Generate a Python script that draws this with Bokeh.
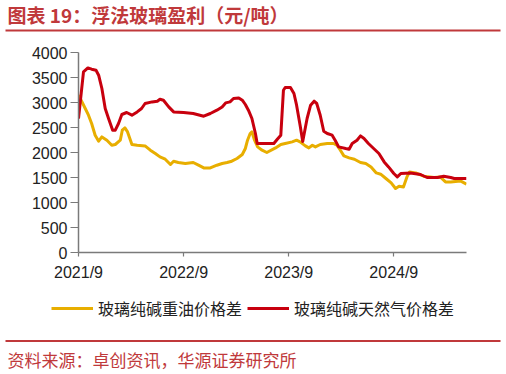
from bokeh.plotting import figure
from bokeh.models import (Range1d, FixedTicker, Legend, LegendItem,
                          SingleIntervalTicker)
from bokeh.layouts import column
from bokeh.core.properties import value
from bokeh.embed import file_html
from bokeh.resources import INLINE

# ---- data (x = months since 2021/9) ----
x_tick_months = [0, 12, 24, 36]
x_tick_labels = ["2021/9", "2022/9", "2023/9", "2024/9"]

oil_name = "玻璃纯碱重油价格差"
gas_name = "玻璃纯碱天然气价格差"

gas_m = [0, 0.57, 1.07, 1.5, 2.0, 2.3, 2.67, 3.05, 3.43, 3.9, 4.2, 4.57, 4.95, 5.5, 6.1,
         6.7, 7.2, 7.6, 8.4, 9.0, 9.3, 9.7, 10.3, 10.86, 12.0, 13.1, 14.3, 15.05, 15.8,
         16.4, 16.8, 17.3, 17.7, 18.3, 18.7, 19.05, 19.4, 19.8, 20.2, 20.4, 20.96, 21.7,
         22.3, 22.7, 23.1, 23.4, 23.6, 24.2, 24.6, 24.9, 25.3, 25.6, 26.1, 26.5, 26.9,
         27.2, 27.6, 28.0, 28.4, 28.96, 29.3, 29.7, 30.5, 30.9, 31.25, 31.8, 32.2, 32.6,
         33.1, 33.7, 34.3, 34.9, 35.4, 36.0, 36.4, 36.8, 37.9, 39.05, 39.8, 41.0, 41.7,
         42.5, 42.9, 44.3]
gas_v = [2680, 3612, 3692, 3666, 3646, 3546, 3280, 2880, 2680, 2446, 2446, 2580, 2760, 2800,
         2746, 2812, 2880, 2980, 3012, 3026, 3066, 3046, 2912, 2812, 2800, 2780, 2726, 2780,
         2846, 2912, 2992, 3012, 3080, 3092, 3046, 2960, 2846, 2680, 2380, 2180, 2180, 2180,
         2180, 2266, 2346, 3246, 3300, 3300, 3180, 2946, 2546, 2220, 2680, 2946, 3026, 2980,
         2746, 2426, 2380, 2346, 2246, 2112, 2080, 2066, 2180, 2246, 2332, 2280, 2180, 2080,
         1980, 1812, 1712, 1580, 1512, 1580, 1592, 1560, 1500, 1500, 1526, 1500, 1480, 1480]

oil_m = [0, 0.4, 0.77, 1.14, 1.5, 1.9, 2.3, 2.67, 3.24, 3.8, 4.2, 4.77, 5.0, 5.3, 5.6, 6.1,
         6.7, 7.6, 8.2, 8.77, 9.3, 9.9, 10.5, 10.86, 11.4, 12.2, 13.1, 13.7, 14.3, 15.05,
         15.8, 16.4, 16.96, 17.5, 18.1, 18.7, 19.05, 19.3, 19.6, 19.8, 20.1, 20.45, 20.96,
         21.5, 22.5, 23.1, 23.6, 24.4, 24.9, 25.3, 25.9, 26.3, 26.7, 27.05, 27.6, 28.4,
         29.1, 29.5, 29.9, 30.3, 30.9, 31.5, 32.2, 32.8, 33.4, 34.0, 34.5, 35.1, 35.7, 36.2,
         36.6, 37.1, 37.5, 37.8, 38.5, 39.4, 40.6, 41.3, 41.9, 42.5, 43.6, 44.3]
oil_v = [3146, 3012, 2880, 2746, 2580, 2346, 2226, 2312, 2246, 2146, 2160, 2246, 2446, 2492,
         2412, 2160, 2146, 2132, 2046, 1980, 1912, 1866, 1760, 1826, 1800, 1780, 1800, 1746,
         1692, 1692, 1746, 1780, 1800, 1826, 1880, 1960, 2080, 2246, 2380, 2412, 2246, 2112,
         2046, 2000, 2092, 2160, 2180, 2212, 2246, 2212, 2132, 2092, 2146, 2112, 2160, 2180,
         2180, 2146, 2046, 1932, 1892, 1866, 1800, 1780, 1712, 1592, 1566, 1480, 1392, 1280,
         1326, 1312, 1512, 1612, 1592, 1526, 1500, 1512, 1412, 1412, 1432, 1366]

title_text = "图表 19：浮法玻璃盈利（元/吨）"
source_text = "资料来源：卓创资讯，华源证券研究所"

OIL_COLOR = "#E8AE00"
GAS_COLOR = "#C8000E"
ACCENT = "#C0393B"
AX = "#7A7A7A"
FONT = "Liberation Sans"
CJK = "Noto Sans CJK SC"
W = 506
TOP_H, MAIN_H, BOT_H = 38, 252, 84


def bare(h):
    f = figure(width=W, height=h, output_backend="svg", toolbar_location=None,
               x_range=Range1d(0, W), y_range=Range1d(h, 0),
               x_axis_location=None, y_axis_location=None, frame_align=False,
               min_border=0, min_border_left=0, min_border_right=0,
               min_border_top=0, min_border_bottom=0)
    f.outline_line_color = None
    f.xgrid.grid_line_color = None
    f.ygrid.grid_line_color = None
    f.border_fill_color = "white"
    f.background_fill_color = "white"
    return f


# ---- top: title + rule ----
top = bare(TOP_H)
top.text(x=[7], y=[14], text=[title_text], text_font=value(CJK), text_font_size="19px",
         text_font_style="bold", text_color=ACCENT, text_baseline="middle", text_align="left")
top.segment(x0=[5], y0=[30], x1=[500], y1=[30], line_color=ACCENT, line_width=2)

# ---- main chart ----
p = figure(width=W, height=MAIN_H, output_backend="svg", toolbar_location=None,
           x_range=Range1d(0, 44.3), y_range=Range1d(0, 4000), frame_align=False,
           min_border_left=78, min_border_right=40, min_border_top=14, min_border_bottom=38)
p.outline_line_color = None
p.xgrid.grid_line_color = None
p.ygrid.grid_line_color = None
p.background_fill_color = "white"
p.border_fill_color = "white"

p.line(oil_m, oil_v, line_color=OIL_COLOR, line_width=3, line_join="round")
p.line(gas_m, gas_v, line_color=GAS_COLOR, line_width=3, line_join="round")

xa = p.xaxis[0]
xa.ticker = FixedTicker(ticks=x_tick_months)
xa.major_label_overrides = {m: l for m, l in zip(x_tick_months, x_tick_labels)}
xa.minor_tick_line_color = None
xa.major_tick_in = 0
xa.major_tick_out = 4
xa.major_label_standoff = 7
xa.axis_line_color = AX
xa.axis_line_width = 1.5
xa.major_tick_line_color = AX
xa.major_tick_line_width = 1.2
xa.major_label_text_font = FONT
xa.major_label_text_font_size = "16px"
xa.major_label_text_color = "#222222"

ya = p.yaxis[0]
ya.ticker = SingleIntervalTicker(interval=500)
ya.minor_tick_line_color = None
ya.major_tick_in = 0
ya.major_tick_out = 8
ya.major_label_standoff = 3
ya.axis_line_color = AX
ya.axis_line_width = 1.5
ya.major_tick_line_color = AX
ya.major_tick_line_width = 1.2
ya.major_label_text_font = FONT
ya.major_label_text_font_size = "16px"
ya.major_label_text_color = "#222222"

# ---- bottom: legend + rule + source ----
bot = bare(BOT_H)
# legend keys (kept off-canvas; they only lend their style to the legend)
k_oil = bot.line([-50, -40], [-50, -50], line_color=OIL_COLOR, line_width=3)
k_gas = bot.line([-50, -40], [-50, -50], line_color=GAS_COLOR, line_width=3)
legend = Legend(items=[LegendItem(label=oil_name, renderers=[k_oil]),
                       LegendItem(label=gas_name, renderers=[k_gas])],
                orientation="horizontal", location=(51, 54),
                glyph_width=42, glyph_height=20, label_standoff=5, spacing=5,
                padding=0, margin=0, border_line_color=None,
                background_fill_alpha=0,
                label_text_font=CJK, label_text_font_size="16px",
                label_text_color="#222222")
bot.add_layout(legend, "center")
bot.segment(x0=[5], y0=[50.5], x1=[500], y1=[50.5], line_color=ACCENT, line_width=2)
bot.text(x=[7], y=[69], text=[source_text], text_font=value(CJK), text_font_size="17px",
         text_color=ACCENT, text_baseline="middle", text_align="left")

layout = column(top, p, bot, spacing=0)
open("out.html", "w").write(file_html(layout, INLINE))
